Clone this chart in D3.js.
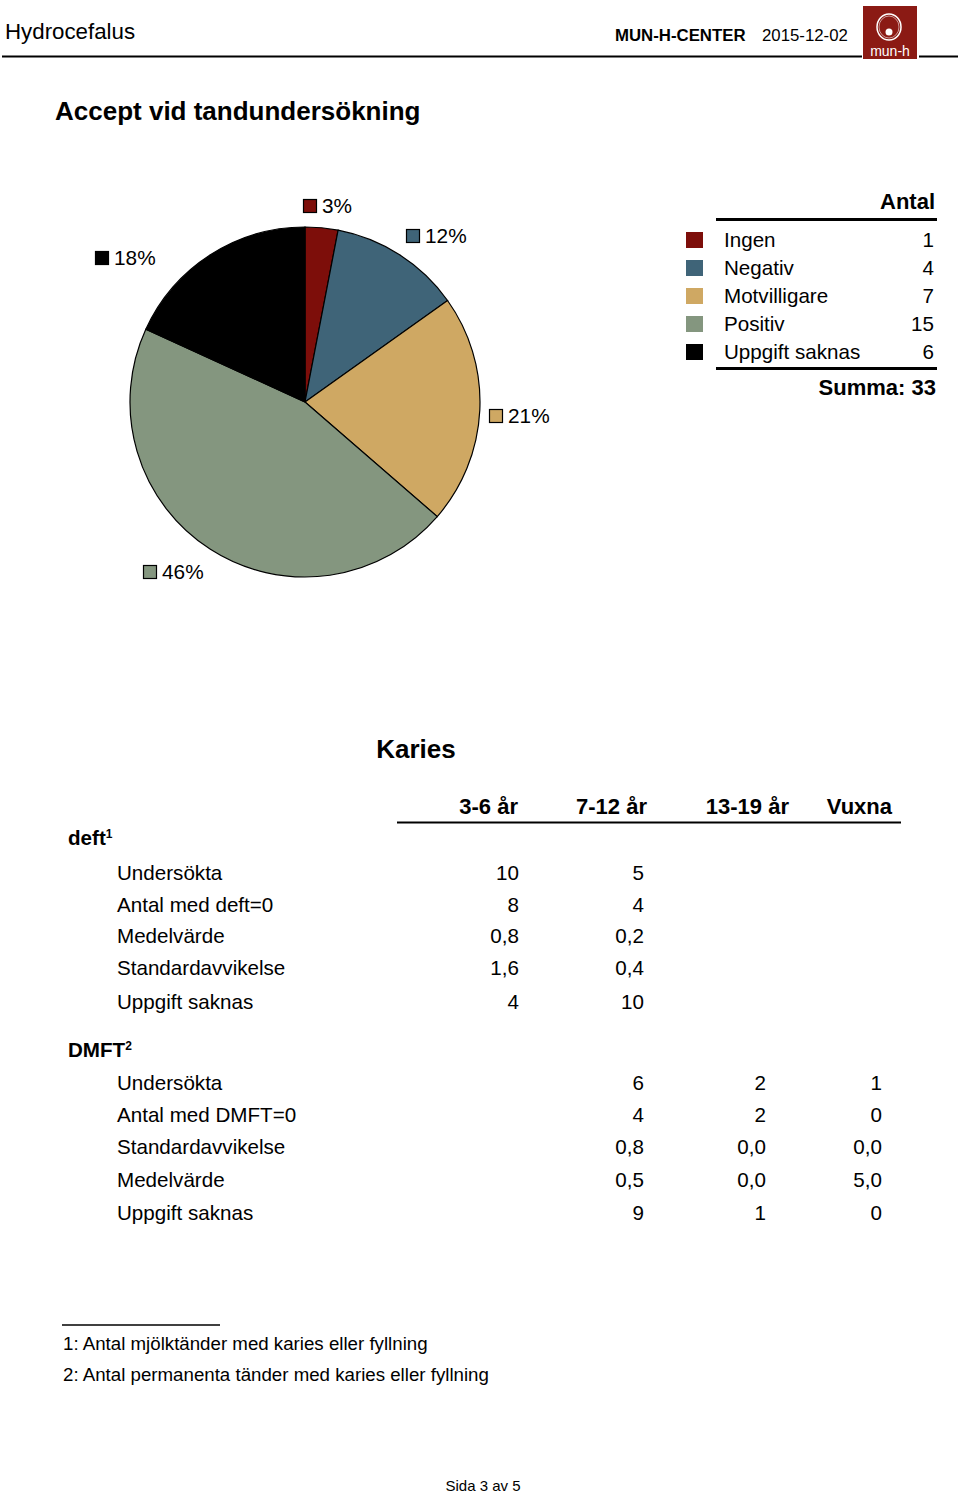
<!DOCTYPE html>
<html><head><meta charset="utf-8">
<script src="https://cdn.jsdelivr.net/npm/d3@7"></script>
<style>body{margin:0;background:#fff}svg{display:block}text{font-family:"Liberation Sans",Arial,Helvetica,sans-serif}</style>
</head><body>
<script>
const categories = ["Ingen","Negativ","Motvilligare","Positiv","Uppgift saknas"];
const counts = [1,4,7,15,6];
const colors = ["#7d0e0a","#3f6478","#cfa863","#84967f","#000000"];
const percentLabels = ["3%","12%","21%","46%","18%"];
const ageGroups = ["3-6 år","7-12 år","13-19 år","Vuxna"];
const deftRows = ["Undersökta","Antal med deft=0","Medelvärde","Standardavvikelse","Uppgift saknas"];
const deftValues = [["10","5","",""],["8","4","",""],["0,8","0,2","",""],["1,6","0,4","",""],["4","10","",""]];
const dmftRows = ["Undersökta","Antal med DMFT=0","Standardavvikelse","Medelvärde","Uppgift saknas"];
const dmftValues = [["","6","2","1"],["","4","2","0"],["","0,8","0,0","0,0"],["","0,5","0,0","5,0"],["","9","1","0"]];
const footnotes = ["1: Antal mjölktänder med karies eller fyllning","2: Antal permanenta tänder med karies eller fyllning"];

const W=960,H=1493;
const svg=d3.select("body").append("svg").attr("width",W).attr("height",H);

// header
svg.append("text").attr("x",5).attr("y",39).attr("font-size",22.3).text("Hydrocefalus");
svg.append("text").attr("x",615).attr("y",41).attr("font-size",16.8).attr("font-weight","bold").text("MUN-H-CENTER");
svg.append("text").attr("x",762).attr("y",41).attr("font-size",16.8).text("2015-12-02");
svg.append("line").attr("x1",2).attr("x2",862).attr("y1",56.5).attr("y2",56.5).attr("stroke","#000").attr("stroke-width",2);
svg.append("line").attr("x1",919).attr("x2",958).attr("y1",56.5).attr("y2",56.5).attr("stroke","#000").attr("stroke-width",2);
const logo=svg.append("g");
logo.append("rect").attr("x",863).attr("y",6).attr("width",54).attr("height",53).attr("fill","#8b1a14");
logo.append("ellipse").attr("cx",889).attr("cy",27).attr("rx",12).attr("ry",13).attr("fill","none").attr("stroke","#fff").attr("stroke-width",1.5);
logo.append("ellipse").attr("cx",889).attr("cy",27).attr("rx",10).attr("ry",11).attr("fill","none").attr("stroke","#fff").attr("stroke-width",0.8).attr("opacity",0.7);
logo.append("circle").attr("cx",889).attr("cy",32).attr("r",3.5).attr("fill","#fff");
logo.append("text").attr("x",890).attr("y",56).attr("text-anchor","middle").attr("font-size",14).attr("fill","#fff").text("mun-h");

// title
svg.append("text").attr("x",55).attr("y",120).attr("font-size",26).attr("font-weight","bold").text("Accept vid tandundersökning");

// pie
const cx=305,cy=402,R=175;
const pie=d3.pie().sort(null).value(d=>d)(counts);
const arc=d3.arc().innerRadius(0).outerRadius(R);
const pg=svg.append("g").attr("transform",`translate(${cx},${cy})`);
pg.selectAll("path").data(pie).join("path").attr("d",arc).attr("fill",(d,i)=>colors[i]).attr("stroke","#000").attr("stroke-width",1.2);

const labelPos=[[303,199],[406,229],[489,409],[143,565],[95,251]];
labelPos.forEach((p,i)=>{
  svg.append("rect").attr("x",p[0]+0.5).attr("y",p[1]+0.5).attr("width",13).attr("height",13).attr("fill",colors[i]).attr("stroke","#000").attr("stroke-width",1.2);
  svg.append("text").attr("x",p[0]+19).attr("y",p[1]+14).attr("font-size",20.8).text(percentLabels[i]);
});

// legend
svg.append("text").attr("x",935).attr("y",209).attr("font-size",22).attr("font-weight","bold").attr("text-anchor","end").text("Antal");
svg.append("line").attr("x1",716).attr("x2",937).attr("y1",219.5).attr("y2",219.5).attr("stroke","#000").attr("stroke-width",3);
const ly=d3.scalePoint().domain(categories).range([247,359]);
categories.forEach((c,i)=>{
  const y=ly(c);
  svg.append("rect").attr("x",686).attr("y",y-15).attr("width",17).attr("height",16).attr("fill",colors[i]);
  svg.append("text").attr("x",724).attr("y",y).attr("font-size",20.6).text(c);
  svg.append("text").attr("x",934).attr("y",y).attr("font-size",20.6).attr("text-anchor","end").text(counts[i]);
});
svg.append("line").attr("x1",716).attr("x2",937).attr("y1",368.5).attr("y2",368.5).attr("stroke","#000").attr("stroke-width",3);
svg.append("text").attr("x",936).attr("y",395).attr("font-size",22).attr("font-weight","bold").attr("text-anchor","end").text("Summa: "+d3.sum(counts));

// Karies table
svg.append("text").attr("x",416).attr("y",758).attr("font-size",26).attr("font-weight","bold").attr("text-anchor","middle").text("Karies");
const headX=[518,647,789,892];
const valX=[519,644,766,882];
ageGroups.forEach((g,i)=>svg.append("text").attr("x",headX[i]).attr("y",814).attr("font-size",22).attr("font-weight","bold").attr("text-anchor","end").text(g));
svg.append("line").attr("x1",397).attr("x2",901).attr("y1",822.5).attr("y2",822.5).attr("stroke","#000").attr("stroke-width",2);

function section(title,sup,ty,rows,vals,ys){
  const t=svg.append("text").attr("x",68).attr("y",ty).attr("font-size",20.6).attr("font-weight","bold").text(title);
  t.append("tspan").attr("font-size",12).attr("dy",-7).text(sup);
  rows.forEach((r,i)=>{
    svg.append("text").attr("x",117).attr("y",ys[i]).attr("font-size",20.6).text(r);
    vals[i].forEach((v,j)=>{ if(v!=="") svg.append("text").attr("x",valX[j]).attr("y",ys[i]).attr("font-size",20.6).attr("text-anchor","end").text(v);});
  });
}
section("deft","1",845,deftRows,deftValues,[880,912,943,975,1009]);
section("DMFT","2",1057,dmftRows,dmftValues,[1090,1122,1154,1187,1220]);

// footnotes
svg.append("line").attr("x1",62).attr("x2",220).attr("y1",1325).attr("y2",1325).attr("stroke","#000").attr("stroke-width",1.5);
footnotes.forEach((f,i)=>svg.append("text").attr("x",63).attr("y",1350+i*31).attr("font-size",18.7).text(f));
svg.append("text").attr("x",483).attr("y",1491).attr("font-size",15).attr("text-anchor","middle").text("Sida 3 av 5");
</script>
</body></html>
